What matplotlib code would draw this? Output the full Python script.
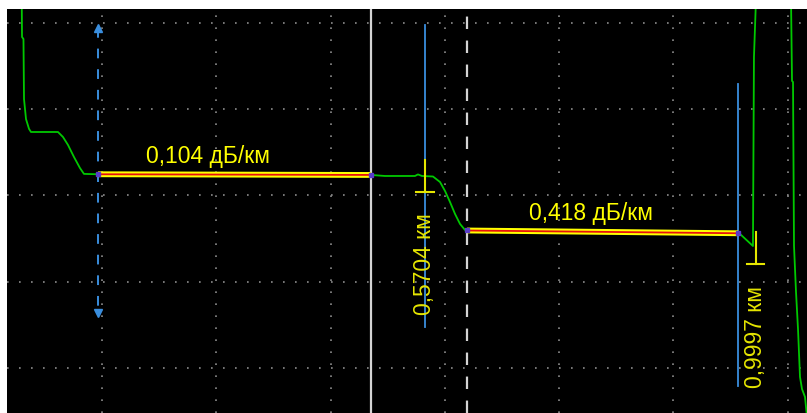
import matplotlib
matplotlib.use("Agg")
import matplotlib.pyplot as plt
import numpy as np

# OTDR trace, x in km, y in dB
trace_km = [0.0455, 0.0462, 0.0481, 0.0488, 0.0514, 0.0553, 0.0579, 0.0930, 0.0995,
            0.1060, 0.1138, 0.1216, 0.1268, 0.1451, 0.5002, 0.5184, 0.5379, 0.5574,
            0.5613, 0.5665, 0.5808, 0.5900, 0.5965, 0.6030, 0.6095, 0.6160, 0.6225,
            0.6251, 0.7550, 0.9300, 0.9776, 0.9802, 0.9971, 0.9984, 1.0006, 1.0193,
            1.0466, 1.0479, 1.0492, 1.0505, 1.0531, 1.0557, 1.0583, 1.0609, 1.0648,
            1.0700]
trace_db = [33.13, 29.19, 29.07, 25.59, 24.43, 23.86, 23.68, 23.68, 23.39,
            22.93, 22.23, 21.59, 21.25, 21.23, 21.19, 21.13, 21.13, 21.13,
            21.22, 21.13, 21.10, 20.78, 20.26, 19.62, 18.93, 18.35, 18.00,
            17.97, 17.95, 17.86, 17.77, 17.77, 17.07, 28.03, 30.81, 34.50,
            31.39, 26.64, 26.58, 17.07, 14.41, 12.26, 9.48, 8.78, 8.32,
            6.00]

# linear fits between markers
fit1_km = [0.1451, 0.5002]
fit1_db = [21.23, 21.19]
fit2_km = [0.6251, 0.9776]
fit2_db = [17.97, 17.81]
fit_labels = ["0,104 дБ/км", "0,418 дБ/км"]
fit_label_pos = [(0.2882, 22.29), (0.7864, 18.99)]

# events
event_km = [0.5704, 1.0006]
event_top = [22.06, 17.88]
event_bot = [20.20, 16.03]
event_labels = ["0,5704 км", "0,9997 км"]
event_label_db = [16.09, 11.86]
blue_km = [0.5704, 0.9776]
blue_top = [29.88, 26.46]
blue_bot = [12.38, 8.96]

cursor_a = 0.1451            # blue dashed
cursor_a_top, cursor_a_bot = 29.70, 13.20
cursor_white = 0.5002         # solid white
cursor_white2 = 0.6251        # dashed white

xgrid = 0.15025 + 0.14869 * np.arange(7)
ygrid = [30, 25, 20, 15, 10]

plt.rcParams['font.family'] = ['Liberation Sans', 'DejaVu Sans']

fig = plt.figure(figsize=(8.07, 4.14), dpi=100)
ax = fig.add_axes([7/807, 0, 800/807, 404/414])
ax.set_facecolor('black')
ax.set_xlim(0.02667, 1.0674)
ax.set_ylim(7.39, 30.81)

ax.set_xticks(xgrid)
ax.set_yticks(ygrid)
ax.grid(True, color='#8c8c8c', linestyle=(0, (1, 6.2)), linewidth=1.2)
ax.tick_params(length=0, labelleft=False, labelbottom=False)
for s in ax.spines.values():
    s.set_visible(False)

blue = '#3a8ede'
ax.axvline(cursor_white, color='#d4d4d4', lw=1.6, zorder=2)
ax.axvline(cursor_white2, color='#d4d4d4', lw=1.6, dashes=(5.6, 5.2), zorder=2)
ax.plot([cursor_a, cursor_a], [cursor_a_top, cursor_a_bot], color=blue, lw=1.4,
        dashes=(5.0, 5.6), zorder=2)
ax.plot([cursor_a], [cursor_a_top], marker='^', color=blue, ms=6, zorder=3)
ax.plot([cursor_a], [cursor_a_bot], marker='v', color=blue, ms=6, zorder=3)

for k, t, b in zip(blue_km, blue_top, blue_bot):
    ax.plot([k, k], [t, b], color=blue, lw=1.3, zorder=2)

ax.plot(trace_km, trace_db, color='#00c800', lw=1.3, zorder=3)

for fx, fy in [(fit1_km, fit1_db), (fit2_km, fit2_db)]:
    ax.plot(fx, fy, color='#ffff00', lw=4.2, solid_capstyle='butt', zorder=4)
    ax.plot(fx, fy, color='#e81010', lw=1.3, zorder=5)
    ax.plot(fx, fy, 's', color='#5a3cc8', ms=3, zorder=6)

for lab, (x, y) in zip(fit_labels, fit_label_pos):
    ax.text(x, y, lab, color='#ffff00', fontsize=16.5, ha='center', va='center', zorder=7)

for k, t, b, lab, ly in zip(event_km, event_top, event_bot, event_labels, event_label_db):
    ax.plot([k, k], [t, b], color='#e6e600', lw=1.5, zorder=6)
    ax.plot([k - 0.0115, k + 0.0115], [b, b], color='#e6e600', lw=1.5, zorder=6)
    ax.text(k, ly, lab, color='#e6e600', fontsize=16.5, rotation=90,
            ha='center', va='center', zorder=7)

fig.savefig('out.png', dpi=100, facecolor='white')
